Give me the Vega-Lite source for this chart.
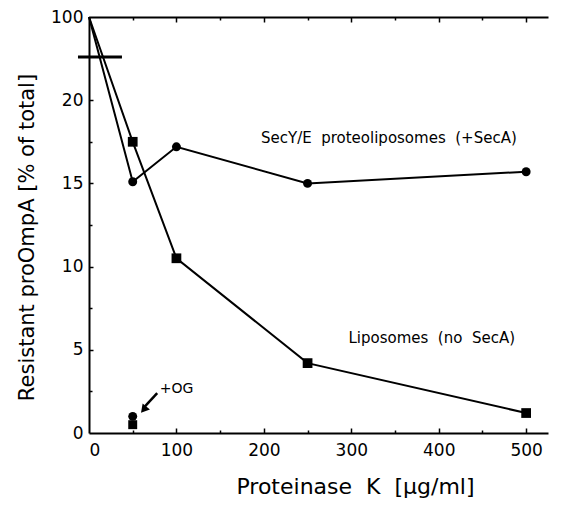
{
  "$schema": "https://vega.github.io/schema/vega-lite/v6.json",
  "width": 459,
  "height": 416,
  "autosize": {"type": "none"},
  "padding": {"left": 89, "top": 17, "right": 15, "bottom": 73},
  "background": "white",
  "config": {
    "view": {"stroke": null},
    "font": "DejaVu Sans",
    "axis": {"domainColor": "black", "tickColor": "black", "labelColor": "black", "titleColor": "black", "grid": false, "domainWidth": 2, "tickWidth": 1.5}
  },
  "resolve": {"axis": {"x": "independent", "y": "independent"}},
  "datasets": {
    "series": [
      {"k": 0, "v": 25, "s": "SecY/E"},
      {"k": 50, "v": 15.1, "s": "SecY/E"},
      {"k": 100, "v": 17.2, "s": "SecY/E"},
      {"k": 250, "v": 15.0, "s": "SecY/E"},
      {"k": 500, "v": 15.7, "s": "SecY/E"},
      {"k": 0, "v": 25, "s": "Liposomes"},
      {"k": 50, "v": 17.5, "s": "Liposomes"},
      {"k": 100, "v": 10.5, "s": "Liposomes"},
      {"k": 250, "v": 4.2, "s": "Liposomes"},
      {"k": 500, "v": 1.2, "s": "Liposomes"}
    ],
    "og": [
      {"k": 50, "v": 1.0, "s": "SecY/E"},
      {"k": 50, "v": 0.5, "s": "Liposomes"}
    ]
  },
  "layer": [
    {
      "data": {"name": "series"},
      "mark": {"type": "line", "color": "black", "strokeWidth": 2},
      "encoding": {
        "x": {"field": "k", "type": "quantitative", "scale": {"domain": [0, 525], "nice": false},
          "axis": {"orient": "bottom", "values": [0, 100, 200, 300, 400, 500], "ticks": false,
            "labelFontSize": 17, "labelPadding": 9, "title": "Proteinase\u00a0 K\u00a0 [µg/ml]", "titleFontSize": 22, "titleFontWeight": "normal", "titlePadding": 18, "titleX": 266}},
        "y": {"field": "v", "type": "quantitative", "scale": {"domain": [0, 25], "nice": false},
          "axis": {"orient": "left", "values": [0, 5, 10, 15, 20, 25], "ticks": false,
            "labelExpr": "datum.value == 25 ? '100' : datum.label",
            "labelFontSize": 17, "labelPadding": 6, "title": "Resistant proOmpA [% of total]", "titleFontSize": 21, "titleFontWeight": "normal", "titlePadding": 13, "titleY": 220}},
        "detail": {"field": "s"}
      }
    },
    {
      "data": {"name": "series"},
      "mark": {"type": "tick", "opacity": 0},
      "encoding": {
        "x": {"field": "k", "type": "quantitative", "axis": {"orient": "top", "offset": -416, "values": [50, 100, 150, 200, 250, 300, 350, 400, 450, 500],
          "tickSize": {"condition": {"test": "datum.value % 100 == 0", "value": 5}, "value": 3}, "labels": false, "domain": false, "title": null}},
        "y": {"field": "v", "type": "quantitative", "axis": {"orient": "right", "offset": -459, "values": [2.5, 5, 7.5, 10, 12.5, 15, 17.5, 20],
          "tickSize": {"condition": {"test": "datum.value % 5 == 0", "value": 4}, "value": 3}, "labels": false, "domain": false, "title": null}}
      }
    },
    {
      "data": {"name": "series"},
      "transform": [{"filter": "datum.k > 0 && datum.s == 'SecY/E'"}],
      "mark": {"type": "point", "shape": "circle", "filled": true, "color": "black", "opacity": 1, "size": 80},
      "encoding": {
        "x": {"field": "k", "type": "quantitative", "axis": {"orient": "bottom", "offset": -416, "values": [50, 100, 150, 200, 250, 300, 350, 400, 450, 500],
          "tickSize": {"condition": {"test": "datum.value % 100 == 0", "value": 5}, "value": 3}, "labels": false, "domain": true, "title": null}},
        "y": {"field": "v", "type": "quantitative", "axis": null}
      }
    },
    {
      "data": {"name": "series"},
      "transform": [{"filter": "datum.k > 0 && datum.s == 'Liposomes'"}],
      "mark": {"type": "point", "shape": "square", "filled": true, "color": "black", "opacity": 1, "size": 95},
      "encoding": {"x": {"field": "k", "type": "quantitative", "axis": null}, "y": {"field": "v", "type": "quantitative", "axis": null}}
    },
    {
      "data": {"name": "og"},
      "mark": {"type": "point", "filled": true, "color": "black", "opacity": 1, "size": 80},
      "encoding": {"x": {"field": "k", "type": "quantitative", "axis": null}, "y": {"field": "v", "type": "quantitative", "axis": null},
        "shape": {"field": "s", "type": "nominal", "scale": {"domain": ["SecY/E", "Liposomes"], "range": ["circle", "square"]}, "legend": null}}
    },
    {
      "data": {"values": [{"x1": -12.6, "x2": 37.7, "y": 22.6}]},
      "mark": {"type": "rule", "color": "black", "strokeWidth": 3},
      "encoding": {"x": {"field": "x1", "type": "quantitative", "axis": null}, "x2": {"field": "x2"}, "y": {"field": "y", "type": "quantitative", "axis": null}}
    },
    {
      "data": {"values": [{"x1": 78, "y1": 2.4, "x2": 64, "y2": 1.6}]},
      "mark": {"type": "rule", "color": "black", "strokeWidth": 2.5},
      "encoding": {"x": {"field": "x1", "type": "quantitative", "axis": null}, "y": {"field": "y1", "type": "quantitative", "axis": null}, "x2": {"field": "x2"}, "y2": {"field": "y2"}}
    },
    {
      "data": {"values": [{"x": 62.5, "y": 1.4}]},
      "mark": {"type": "point", "shape": "triangle-up", "filled": true, "color": "black", "opacity": 1, "size": 90, "angle": 220},
      "encoding": {"x": {"field": "x", "type": "quantitative", "axis": null}, "y": {"field": "y", "type": "quantitative", "axis": null}}
    },
    {
      "data": {"values": [{"x": 81, "y": 2.65, "t": "+OG"}]},
      "mark": {"type": "text", "color": "black", "fontSize": 14, "align": "left", "baseline": "middle"},
      "encoding": {"x": {"field": "x", "type": "quantitative", "axis": null}, "y": {"field": "y", "type": "quantitative", "axis": null}, "text": {"field": "t"}}
    },
    {
      "data": {"values": [
        {"x": 343, "y": 17.7, "t": "SecY/E\u00a0 proteoliposomes\u00a0 (+SecA)"},
        {"x": 392, "y": 5.7, "t": "Liposomes\u00a0 (no\u00a0 SecA)"}
      ]},
      "mark": {"type": "text", "color": "black", "fontSize": 15, "align": "center", "baseline": "middle"},
      "encoding": {"x": {"field": "x", "type": "quantitative", "axis": null}, "y": {"field": "y", "type": "quantitative", "axis": null}, "text": {"field": "t"}}
    }
  ]
}
